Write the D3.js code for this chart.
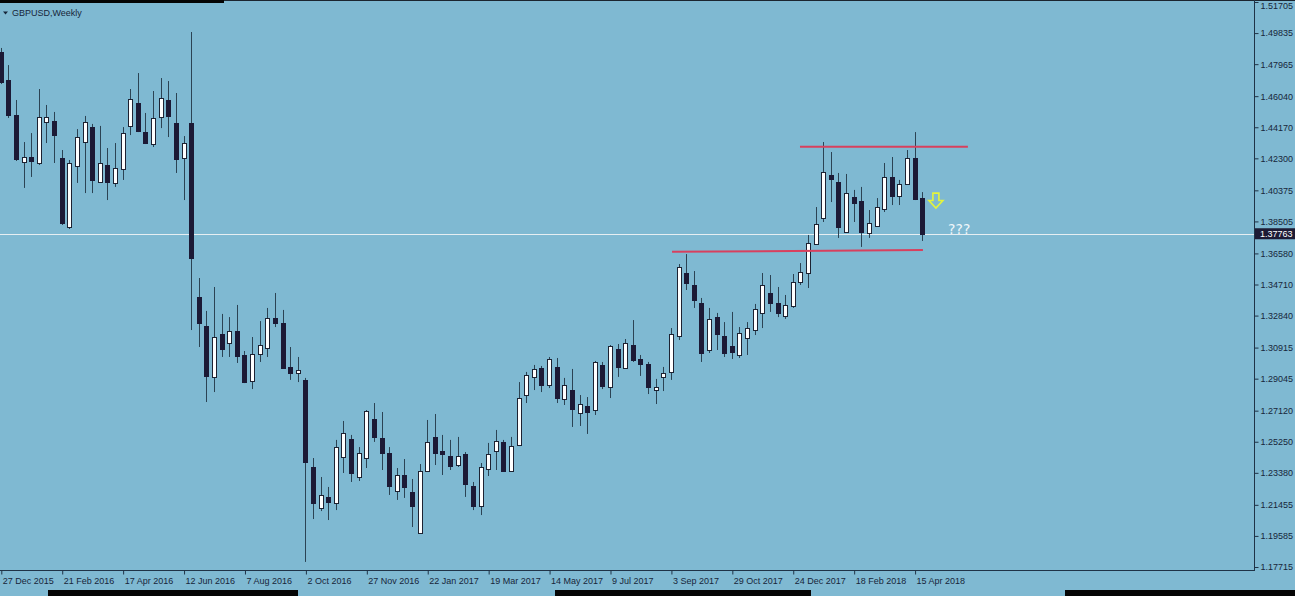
<!DOCTYPE html>
<html><head><meta charset="utf-8">
<script src="https://cdn.jsdelivr.net/npm/d3@7"></script>
<style>html,body{margin:0;padding:0;background:#7fb9d2;overflow:hidden}</style>
</head><body><svg id="c" width="1295" height="596"></svg>
<script>
// ---- data ----
const symbolTitle = "GBPUSD,Weekly";
const firstWeek = "2015-12-27";
const open  = [1.4870,1.4701,1.4491,1.4208,1.4238,1.4202,1.4449,1.4455,1.4232,1.3817,1.4184,1.4328,1.4418,1.4088,1.4190,1.4082,1.4166,1.4425,1.4563,1.4388,1.4316,1.4479,1.4581,1.4443,1.4232,1.4443,1.3396,1.3221,1.2915,1.3173,1.3119,1.3191,1.3047,1.2890,1.3053,1.3089,1.3269,1.3239,1.2975,1.2939,1.2897,1.2373,1.2126,1.2193,1.2157,1.2433,1.2542,1.2313,1.2427,1.2662,1.2548,1.2457,1.2229,1.2325,1.2223,1.1976,1.2349,1.2554,1.2469,1.2439,1.2385,1.2451,1.2259,1.2139,1.2361,1.2469,1.2524,1.2349,1.2505,1.2806,1.2915,1.2969,1.2866,1.2975,1.2782,1.2836,1.2698,1.2740,1.2716,1.2987,1.2854,1.3083,1.2969,1.3107,1.3023,1.2993,1.2836,1.2915,1.2945,1.3161,1.3540,1.3468,1.3360,1.3077,1.3275,1.3161,1.3101,1.3047,1.3149,1.3197,1.3300,1.3420,1.3360,1.3282,1.3342,1.3486,1.3540,1.3715,1.3871,1.4130,1.4088,1.3787,1.3997,1.3973,1.3781,1.3823,1.3925,1.4118,1.4003,1.4076,1.4232,1.3991];
const high  = [1.4894,1.4791,1.4581,1.4328,1.4382,1.4647,1.4551,1.4509,1.4280,1.4220,1.4406,1.4485,1.4437,1.4425,1.4292,1.4322,1.4418,1.4647,1.4743,1.4503,1.4635,1.4713,1.4695,1.4623,1.4364,1.4990,1.3510,1.3312,1.3456,1.3294,1.3275,1.3348,1.3071,1.3155,1.3251,1.3330,1.3420,1.3318,1.3095,1.3035,1.2909,1.2427,1.2313,1.2253,1.2536,1.2650,1.2566,1.2493,1.2716,1.2758,1.2704,1.2493,1.2367,1.2421,1.2301,1.2391,1.2656,1.2692,1.2566,1.2536,1.2554,1.2463,1.2283,1.2397,1.2518,1.2596,1.2536,1.2554,1.2884,1.2945,1.2987,1.2981,1.3035,1.3029,1.2909,1.2963,1.2806,1.2794,1.3011,1.3005,1.3107,1.3113,1.3143,1.3257,1.3047,1.3005,1.2903,1.2975,1.3209,1.3594,1.3654,1.3552,1.3390,1.3330,1.3300,1.3245,1.3306,1.3215,1.3245,1.3354,1.3540,1.3528,1.3456,1.3408,1.3534,1.3600,1.3769,1.3937,1.4328,1.4268,1.4142,1.4136,1.4040,1.4058,1.3919,1.3991,1.4202,1.4238,1.4100,1.4280,1.4388,1.4027];
const low   = [1.4677,1.4473,1.4214,1.4052,1.4118,1.4190,1.4322,1.4202,1.3829,1.3805,1.4082,1.4021,1.4021,1.4082,1.3979,1.4058,1.4100,1.4370,1.4388,1.4316,1.4298,1.4412,1.4358,1.4142,1.3979,1.3197,1.3095,1.2764,1.2824,1.3035,1.3035,1.2999,1.2878,1.2842,1.3005,1.3035,1.3215,1.2963,1.2897,1.2884,1.1802,1.2060,1.2108,1.2054,1.2114,1.2337,1.2283,1.2289,1.2367,1.2524,1.2355,1.2205,1.2175,1.2187,1.2012,1.1970,1.2343,1.2385,1.2325,1.2355,1.2373,1.2193,1.2114,1.2084,1.2319,1.2355,1.2343,1.2343,1.2499,1.2758,1.2836,1.2824,1.2848,1.2758,1.2746,1.2614,1.2620,1.2572,1.2686,1.2842,1.2788,1.2915,1.2963,1.3005,1.2921,1.2812,1.2752,1.2830,1.2897,1.3137,1.3438,1.3330,1.3005,1.3059,1.3077,1.3035,1.3023,1.3029,1.3047,1.3167,1.3209,1.3306,1.3275,1.3264,1.3330,1.3468,1.3450,1.3709,1.3847,1.3967,1.3751,1.3781,1.3847,1.3697,1.3751,1.3817,1.3907,1.3949,1.3949,1.4070,1.3979,1.3733];
const close = [1.4689,1.4491,1.4226,1.4238,1.4214,1.4479,1.4479,1.4370,1.3841,1.4202,1.4358,1.4449,1.4100,1.4202,1.4088,1.4172,1.4382,1.4587,1.4394,1.4322,1.4473,1.4593,1.4485,1.4226,1.4322,1.3630,1.3239,1.2921,1.3155,1.3083,1.3191,1.3041,1.2884,1.3053,1.3107,1.3269,1.3239,1.2969,1.2939,1.2957,1.2403,1.2157,1.2205,1.2163,1.2493,1.2578,1.2337,1.2457,1.2710,1.2554,1.2457,1.2259,1.2325,1.2253,1.2139,1.2349,1.2524,1.2457,1.2451,1.2379,1.2439,1.2271,1.2139,1.2373,1.2451,1.2530,1.2349,1.2499,1.2788,1.2927,1.2963,1.2866,1.3023,1.2788,1.2866,1.2722,1.2752,1.2704,1.3005,1.2860,1.3101,1.2975,1.3119,1.3017,1.2993,1.2854,1.2854,1.2939,1.3173,1.3576,1.3480,1.3378,1.3059,1.3264,1.3173,1.3059,1.3065,1.3179,1.3209,1.3324,1.3468,1.3360,1.3300,1.3348,1.3486,1.3546,1.3721,1.3835,1.4148,1.4106,1.3817,1.4021,1.3961,1.3787,1.3841,1.3937,1.4118,1.4003,1.4076,1.4232,1.3985,1.3776];
const priceTicks = [1.51705,1.49835,1.47965,1.46040,1.44170,1.42300,1.40375,1.38505,1.36580,1.34710,1.32840,1.30915,1.29045,1.27120,1.25250,1.23380,1.21455,1.19585,1.17715];
const timeTickLabels = ["27 Dec 2015","21 Feb 2016","17 Apr 2016","12 Jun 2016","7 Aug 2016","2 Oct 2016","27 Nov 2016","22 Jan 2017","19 Mar 2017","14 May 2017","9 Jul 2017","3 Sep 2017","29 Oct 2017","24 Dec 2017","18 Feb 2018","15 Apr 2018"];
const lastPrice = 1.37763;
// drawn objects: [startWeekIndex, startPrice, endWeekIndex, endPrice]
const resistanceLine = [104.95, 1.4300, 127.0, 1.4300];
const supportLine    = [88.15, 1.3668, 121.1, 1.3678];
const arrowMark = {week: 122.8, top: 1.4021, bottom: 1.3931};
const questionMark = {week: 124.4, price: 1.3776, text: "???"};

// ---- layout ----
const W = 1295, H = 596, axisX = 1254, axisY = 570;
const svg = d3.select("#c");
const font = "'Liberation Sans', Arial, sans-serif";
const textCol = "#17263a";

const x = d3.scaleLinear().domain([0, 121]).range([0.8, 922.2]);
const y = d3.scaleLinear().domain([1.17715, 1.51705]).range([567, 2]);

svg.append("rect").attr("width", W).attr("height", H).attr("fill", "#7fb9d2");

// screenshot edge strips
svg.append("rect").attr("x",0).attr("y",0).attr("width",224).attr("height",3).attr("fill","#050505");
svg.append("rect").attr("x",224).attr("y",0).attr("width",1071).attr("height",1).attr("fill","#1b2530");
[[48,298],[555,811],[1065,1295]].forEach(s=>svg.append("rect").attr("x",s[0]).attr("y",590).attr("width",s[1]-s[0]).attr("height",6).attr("fill","#050505"));

// bid line
svg.append("line").attr("x1",0).attr("x2",axisX).attr("y1",Math.round(y(lastPrice))+0.5).attr("y2",Math.round(y(lastPrice))+0.5)
  .attr("stroke","#e6eef2").attr("stroke-width",1);

// candles
const candles = open.map((o,i)=>({i,o,h:high[i],l:low[i],c:close[i]}));
const g = svg.append("g");
g.selectAll("line.w").data(candles).join("line").attr("class","w")
  .attr("x1",d=>Math.round(x(d.i))+0.5).attr("x2",d=>Math.round(x(d.i))+0.5)
  .attr("y1",d=>y(d.h)).attr("y2",d=>y(d.l))
  .attr("stroke","#2b4354").attr("stroke-width",1);
g.selectAll("rect.b").data(candles).join("rect").attr("class","b")
  .attr("x",d=>Math.round(x(d.i))-1.5).attr("width",4)
  .attr("y",d=>Math.round(y(Math.max(d.o,d.c)))+0.5)
  .attr("height",d=>Math.max(1,Math.round(y(Math.min(d.o,d.c)))-Math.round(y(Math.max(d.o,d.c)))))
  .attr("fill",d=>d.c>=d.o?"#ffffff":"#1c1a36")
  .attr("stroke",d=>d.c>=d.o?"#1d2232":"#1c1a36").attr("stroke-width",1);

// level lines
[resistanceLine, supportLine].forEach(l=>{
  svg.append("line").attr("x1",x(l[0])).attr("y1",y(l[1])).attr("x2",x(l[2])).attr("y2",y(l[3]))
    .attr("stroke","#d8405e").attr("stroke-width",2);
});

// arrow
{
  const cx = x(arrowMark.week), t = y(arrowMark.top), b = y(arrowMark.bottom);
  const mid = t + (b - t) * 0.5;
  const p = d3.path();
  p.moveTo(cx-3,t); p.lineTo(cx+3,t); p.lineTo(cx+3,mid); p.lineTo(cx+7,mid);
  p.lineTo(cx,b); p.lineTo(cx-7,mid); p.lineTo(cx-3,mid); p.closePath();
  svg.append("path").attr("d",p.toString()).attr("fill","none").attr("stroke","#e4f43c").attr("stroke-width",1.6);
}
svg.append("text").attr("x",x(questionMark.week)).attr("y",y(questionMark.price))
  .attr("font-family","'DejaVu Sans', sans-serif").attr("font-size",14).attr("fill","#eef6fa")
  .text(questionMark.text);

// right price axis
svg.append("line").attr("x1",axisX+0.5).attr("x2",axisX+0.5).attr("y1",0).attr("y2",axisY+1).attr("stroke","#1f3347");
const ya = d3.axisRight(y).tickValues(priceTicks).tickFormat(d3.format(".5f")).tickSize(4).tickPadding(2).tickSizeOuter(0);
const yg = svg.append("g").attr("transform",`translate(${axisX+0.5},0)`).call(ya);
yg.select(".domain").remove();
yg.selectAll("line").attr("stroke","#1f3347");
yg.selectAll("text").attr("font-family",font).attr("font-size",9).attr("fill",textCol)
  .attr("y",d=>Math.max(0, 6 - y(d)));

// current price tag
svg.append("rect").attr("x",axisX+1).attr("y",y(lastPrice)-5.5).attr("width",W-axisX-1).attr("height",11).attr("fill","#1d1b35");
svg.append("text").attr("x",axisX+6).attr("y",y(lastPrice)+3.3).attr("font-family",font).attr("font-size",9)
  .attr("fill","#ffffff").text(d3.format(".5f")(lastPrice));

// bottom time axis
const parse = d3.utcParse("%d %b %Y");
const start = d3.utcParse("%Y-%m-%d")(firstWeek);
const tickIdx = timeTickLabels.map(s=>d3.utcWeek.count(start, parse(s)));
svg.append("line").attr("x1",0).attr("x2",axisX+1).attr("y1",axisY+0.5).attr("y2",axisY+0.5).attr("stroke","#1f3347");
const xa = d3.axisBottom(x).tickValues(tickIdx).tickFormat((d,k)=>timeTickLabels[k]).tickSize(4).tickPadding(3).tickSizeOuter(0);
const xg = svg.append("g").attr("transform",`translate(0.5,${axisY+0.5})`).call(xa);
xg.select(".domain").remove();
xg.selectAll("line").attr("stroke","#1f3347");
xg.selectAll("text").attr("font-family",font).attr("font-size",9).attr("fill",textCol).attr("text-anchor","start").attr("dx",1);

// title
svg.append("path").attr("d","M3,11.5L8,11.5L5.5,14.5Z").attr("fill",textCol);
svg.append("text").attr("x",12).attr("y",16).attr("font-family",font).attr("font-size",9).attr("fill",textCol).text(symbolTitle);
</script></body></html>
